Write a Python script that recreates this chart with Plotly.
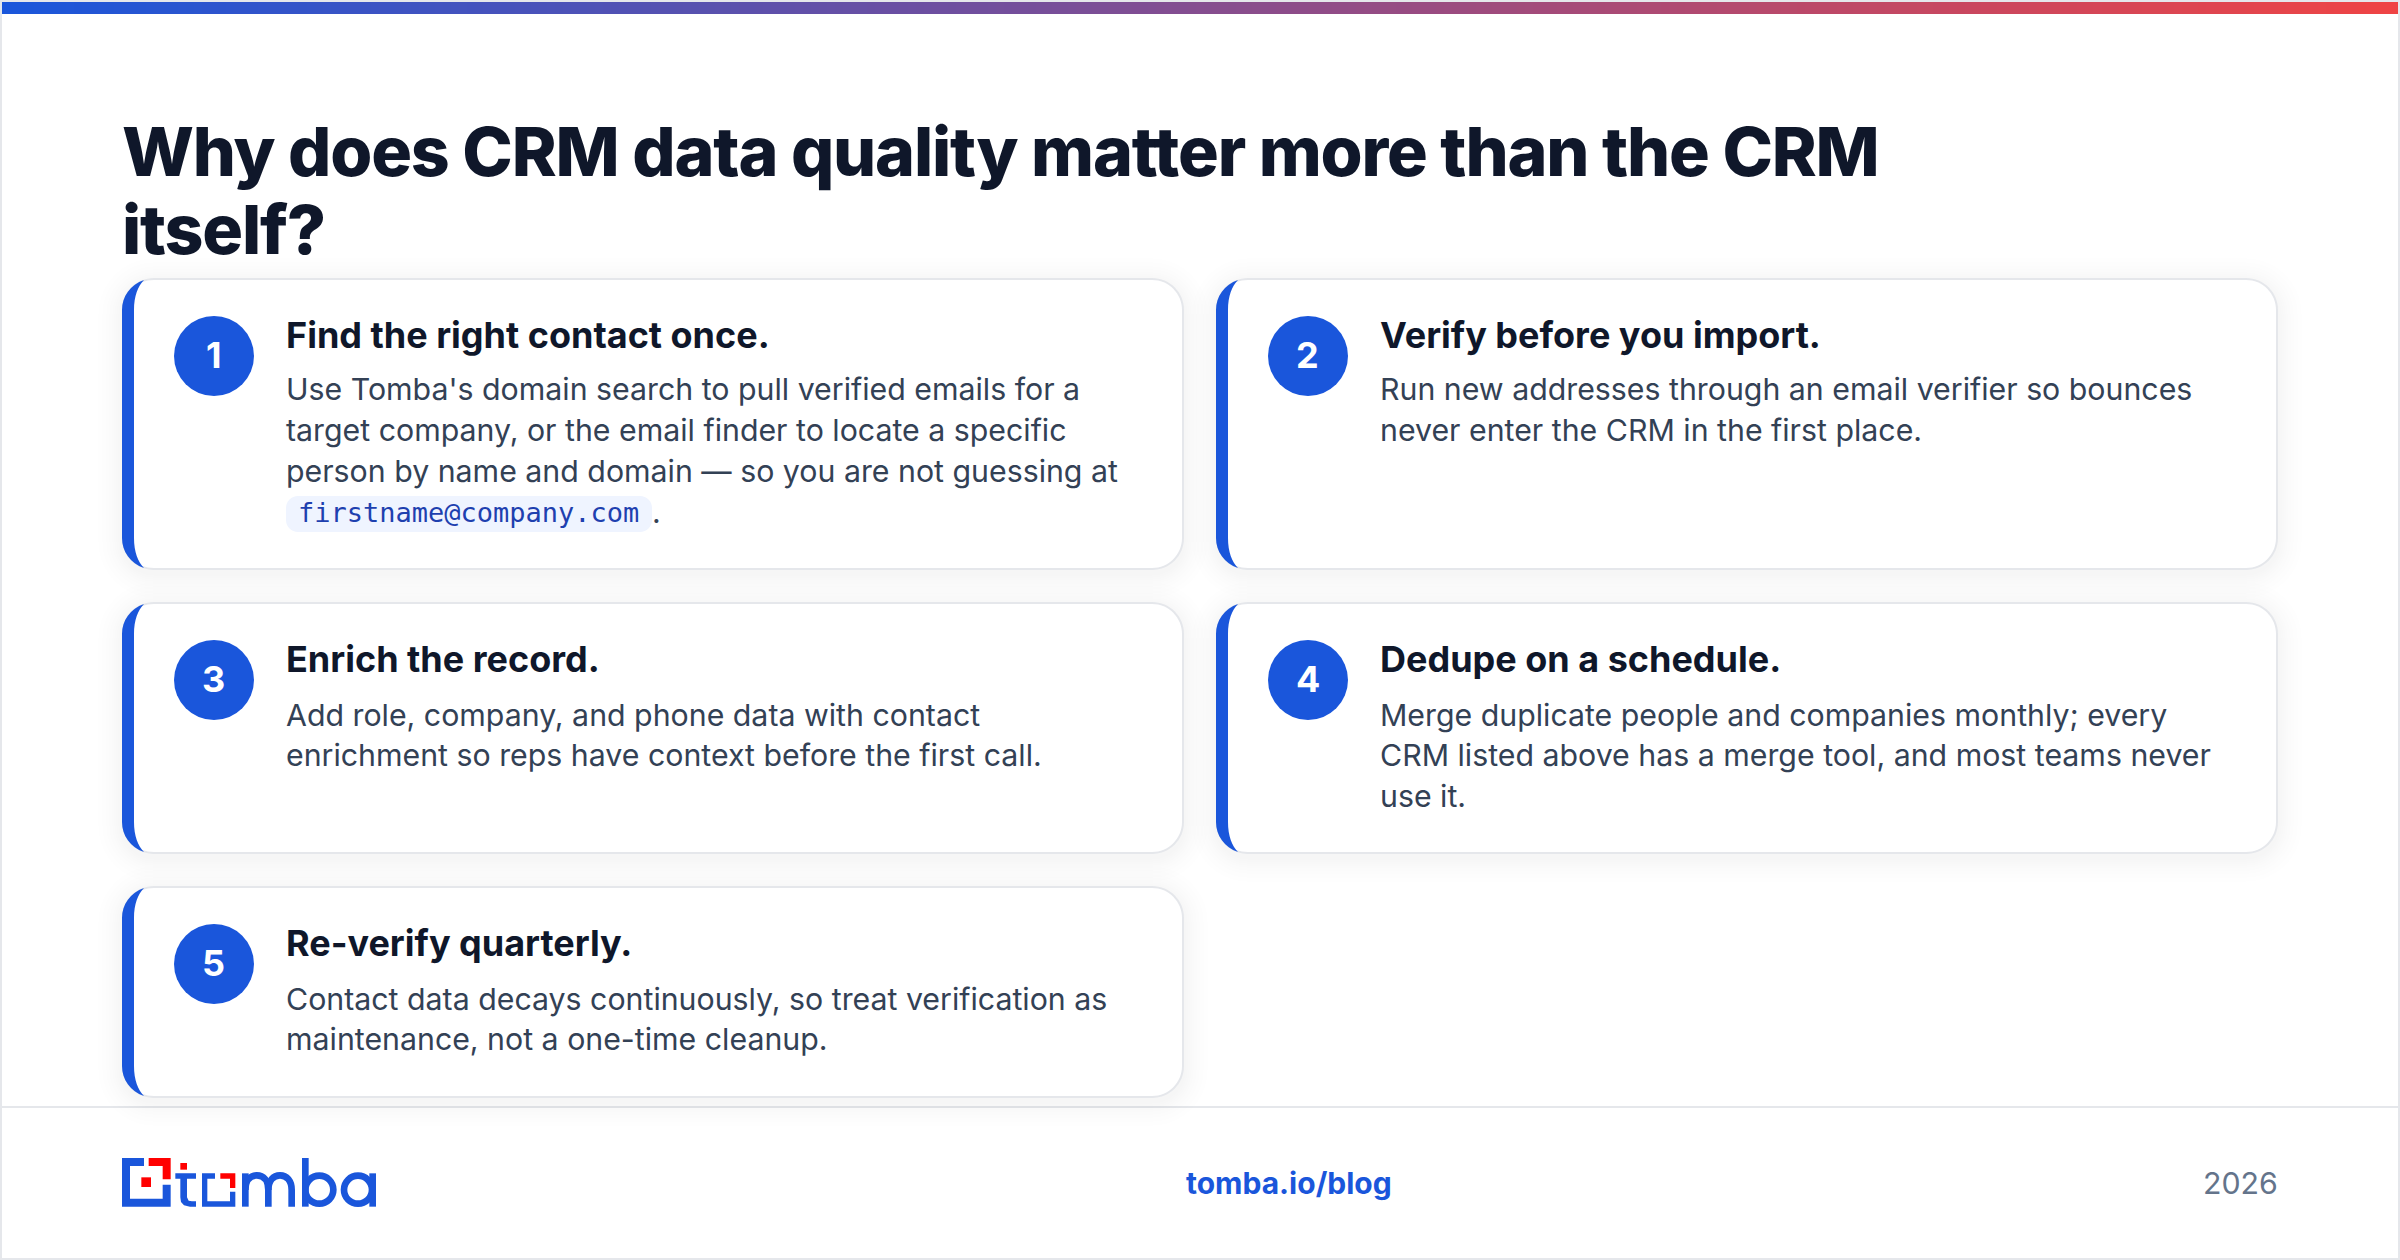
import plotly.graph_objects as go

# ---------- content ----------
HEADLINE = ["Why does CRM data quality matter more than the CRM", "itself?"]
STEP_NUMBERS = ["1", "2", "3", "4", "5"]
STEP_TITLES = ["Find the right contact once.", "Verify before you import.", "Enrich the record.",
               "Dedupe on a schedule.", "Re-verify quarterly."]
STEP_BODIES = [
    ["Use Tomba's domain search to pull verified emails for a",
     "target company, or the email finder to locate a specific",
     "person by name and domain \u2014 so you are not guessing at"],
    ["Run new addresses through an email verifier so bounces",
     "never enter the CRM in the first place."],
    ["Add role, company, and phone data with contact",
     "enrichment so reps have context before the first call."],
    ["Merge duplicate people and companies monthly; every",
     "CRM listed above has a merge tool, and most teams never",
     "use it."],
    ["Contact data decays continuously, so treat verification as",
     "maintenance, not a one-time cleanup."],
]
CODE_TEXT = "firstname@company.com"
FOOTER_LINK = "tomba.io/blog"
FOOTER_YEAR = "2026"

# ---------- layout / style ----------
W, H = 2400, 1260
BLUE, RED_END = "#1a56db", "#ef4444"
BORDER = "#e5e7eb"
INK, BODY, MUTED = "#0f172a", "#334155", "#64748b"
SANS = "Inter"
CARDS = [(122, 278, 1184, 570), (1216, 278, 2278, 570),
         (122, 602, 1184, 854), (1216, 602, 2278, 854),
         (122, 886, 1184, 1098)]
TITLE_Y = [335, 335, 659, 659, 943]
CIRCLE_Y = [356, 356, 680, 680, 964]
BODY_Y = [[389, 429.5, 471], [389, 429.5], [715, 755], [715, 755, 796], [999, 1039]]
BODY_SIZE = 30.3
K = 0.5523

shapes = []
annots = []


def rrect(x0, y0, x1, y1, r):
    c = r * (1 - K)
    return (f"M{x0+r},{y0} L{x1-r},{y0} C{x1-c},{y0} {x1},{y0+c} {x1},{y0+r} "
            f"L{x1},{y1-r} C{x1},{y1-c} {x1-c},{y1} {x1-r},{y1} "
            f"L{x0+r},{y1} C{x0+c},{y1} {x0},{y1-c} {x0},{y1-r} "
            f"L{x0},{y0+r} C{x0},{y0+c} {x0+c},{y0} {x0+r},{y0} Z")


def fill_path(path, color, opacity=1):
    shapes.append(dict(type="path", path=path, fillcolor=color, opacity=opacity,
                       line=dict(width=0), xref="x", yref="y"))


def rect(x0, y0, x1, y1, color):
    shapes.append(dict(type="rect", x0=x0, y0=y0, x1=x1, y1=y1, fillcolor=color,
                       line=dict(width=0), xref="x", yref="y"))


def label(x, y, text, size, color, weight=400, family=SANS, anchor="left"):
    annots.append(dict(x=x, y=y, xref="x", yref="y", text=text, showarrow=False,
                       xanchor=anchor, yanchor="middle", borderpad=0, borderwidth=0,
                       font=dict(family=family, size=size, color=color, weight=weight)))


# page frame and footer rule
rect(0, 0, W, 2, BORDER)
rect(0, H - 2, W, H, BORDER)
rect(0, 0, 2, H, BORDER)
rect(W - 2, 0, W, H, BORDER)
rect(2, 1106, W - 2, 1108, BORDER)

# cards
R = 32
for i, (x0, y0, x1, y1) in enumerate(CARDS):
    for e in (24, 20, 16, 13, 10, 8, 6, 4, 2):
        fill_path(rrect(x0 - e, y0 - e + 4, x1 + e, y1 + e + 4, R + e), "#0f172a", 0.0042)
    fill_path(rrect(x0, y0, x1, y1, R), BORDER)
    fill_path(rrect(x0 + 2, y0 + 2, x1 - 2, y1 - 2, R - 2), "#ffffff")
    # thick left edge with CSS-like crescent corners
    tip = x0 + 22
    fill_path(
        f"M{tip},{y0+2} C{x0+8.4},{y0+6.6} {x0},{y0+18.6} {x0},{y0+R} "
        f"L{x0},{y1-R} C{x0},{y1-18.6} {x0+8.4},{y1-6.6} {tip},{y1-2} "
        f"C{x0+16},{y1-8} {x0+12},{y1-18} {x0+12},{y1-R} "
        f"L{x0+12},{y0+R} C{x0+12},{y0+18} {x0+16},{y0+8} {tip},{y0+2} Z", BLUE)
    # number badge
    cx, cy = x0 + 92, CIRCLE_Y[i]
    shapes.append(dict(type="circle", x0=cx - 40, y0=cy - 40, x1=cx + 40, y1=cy + 40,
                       fillcolor=BLUE, line=dict(width=0), xref="x", yref="y"))
    label(cx - 0.5, cy - 1, STEP_NUMBERS[i], 36, "#ffffff", 700, anchor="center")
    tx = x0 + 164
    label(tx, TITLE_Y[i], STEP_TITLES[i], 36, INK, 700)
    for line, ly_ in zip(STEP_BODIES[i], BODY_Y[i]):
        label(tx, ly_, line, BODY_SIZE, BODY)

# inline code chip in card 1
fill_path(rrect(286, 496, 652, 532, 12), "#eff4ff")
label(298, 512, CODE_TEXT, 27, "#1e40af", family="DejaVu Sans Mono")
label(652, 512, ".", BODY_SIZE, BODY)

# headline
label(122, 150.5, HEADLINE[0], 68, INK, 800)
label(122, 228.5, HEADLINE[1], 68, INK, 800)

# footer text
label(1289, 1183, FOOTER_LINK, 30, BLUE, 700, anchor="center")
label(2278, 1183, FOOTER_YEAR, BODY_SIZE, MUTED, anchor="right")


# logo, drawn in its own grid then mapped to the page
def lx(v):
    return 100 + v / 3


def ly(v):
    return 1090 + v / 3


def poly(points, color):
    p = "M" + " L".join(f"{lx(a)},{ly(b)}" for a, b in points) + " Z"
    fill_path(p, color)


LOGO_RED = "#ff0000"
poly([(66, 204), (132, 204), (132, 228), (90, 228), (90, 326), (188, 326), (188, 284), (212, 284),
      (212, 350), (66, 350)], BLUE)
poly([(146, 204), (212, 204), (212, 268), (188, 268), (188, 228), (146, 228)], LOGO_RED)
poly([(124, 262), (153, 262), (153, 291), (124, 291)], LOGO_RED)
poly([(241, 219), (261, 219), (261, 239), (241, 239)], LOGO_RED)
poly([(226, 250), (288, 250), (288, 266), (261, 266), (261, 322), (266, 332), (276, 334), (288, 334),
      (288, 350), (270, 350), (252, 346), (243, 336), (241, 322), (241, 266), (226, 266)], BLUE)
poly([(306, 250), (345, 250), (345, 266), (322, 266), (322, 334), (390, 334), (390, 305), (406, 305),
      (406, 350), (306, 350)], BLUE)
poly([(361, 250), (406, 250), (406, 294), (390, 294), (390, 266), (361, 266)], LOGO_RED)

STROKE = 20 / 3


def stroke_path(path):
    shapes.append(dict(type="path", path=path, fillcolor="rgba(0,0,0,0)",
                       line=dict(width=STROKE, color=BLUE), xref="x", yref="y"))


def ring(cx, cy, r):
    c = r * K
    stroke_path(f"M{lx(cx-r)},{ly(cy)} C{lx(cx-r)},{ly(cy-c)} {lx(cx-c)},{ly(cy-r)} {lx(cx)},{ly(cy-r)} "
                f"C{lx(cx+c)},{ly(cy-r)} {lx(cx+r)},{ly(cy-c)} {lx(cx+r)},{ly(cy)} "
                f"C{lx(cx+r)},{ly(cy+c)} {lx(cx+c)},{ly(cy+r)} {lx(cx)},{ly(cy+r)} "
                f"C{lx(cx-c)},{ly(cy+r)} {lx(cx-r)},{ly(cy+c)} {lx(cx-r)},{ly(cy)} Z")


poly([(426, 250), (446, 250), (446, 350), (426, 350)], BLUE)
for a, b in ((436, 505), (505, 575)):
    m = (a + b) / 2
    stroke_path(f"M{lx(a)},{ly(300)} C{lx(a)},{ly(272)} {lx(m-20)},{ly(256)} {lx(m)},{ly(256)} "
                f"C{lx(m+20)},{ly(256)} {lx(b)},{ly(272)} {lx(b)},{ly(300)} L{lx(b)},{ly(350)}")
poly([(606, 204), (626, 204), (626, 350), (606, 350)], BLUE)
ring(658, 299, 42)
ring(774, 299, 42)
poly([(808, 250), (828, 250), (828, 350), (808, 350)], BLUE)

# ---------- figure ----------
BAR_STEPS = list(range(0, 300))
bar_edges = [2 + (W - 4) * s / 299 for s in BAR_STEPS]
fig = go.Figure(go.Heatmap(
    z=[BAR_STEPS[:-1]], x=bar_edges, y=[2, 14], showscale=False, hoverinfo="skip",
    colorscale=[[0, BLUE], [1, RED_END]]))
fig.update_layout(
    width=W, height=H, margin=dict(l=0, r=0, t=0, b=0), showlegend=False,
    paper_bgcolor="#ffffff", plot_bgcolor="#ffffff",
    xaxis=dict(range=[0, W], visible=False, fixedrange=True),
    yaxis=dict(range=[H, 0], visible=False, fixedrange=True),
    shapes=shapes, annotations=annots)
POST = """
document.body.style.margin='0';document.body.style.overflow='hidden';
document.querySelectorAll('.annotation-text').forEach(function(t){
  if(parseFloat(t.style.fontSize)>=60){
    var a=t.getBBox().x;
    t.style.letterSpacing='-1.18px';
    var b=t.getBBox().x;
    t.setAttribute('x',parseFloat(t.getAttribute('x')||0)+(a-b));
  }
});
"""
fig.write_html("out.html", config=dict(displayModeBar=False), post_script=POST)
